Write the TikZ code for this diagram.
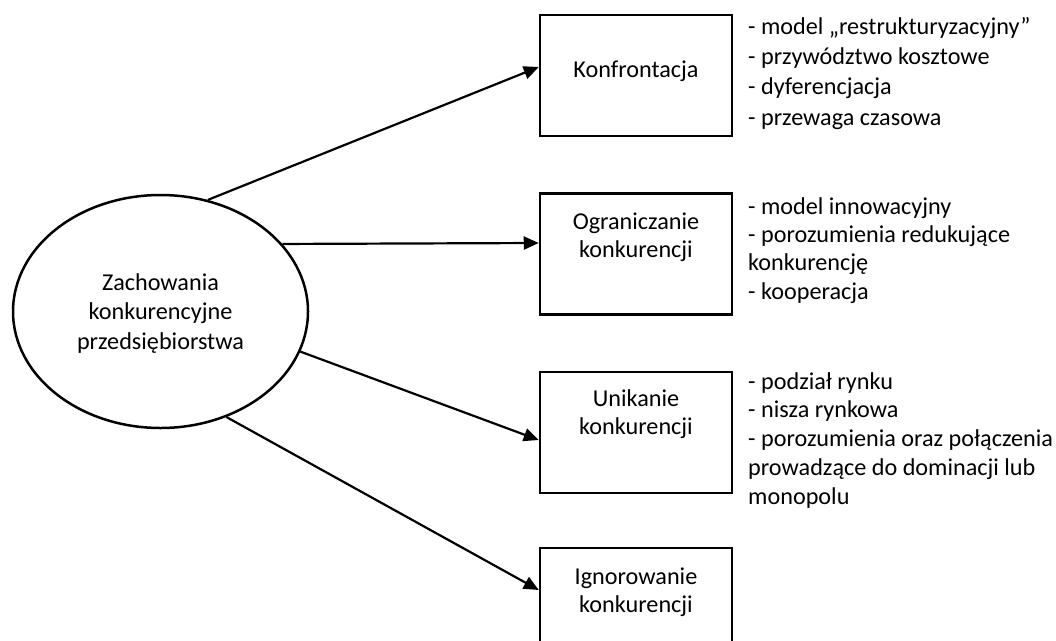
\documentclass[tikz,border=0pt]{standalone}
\usepackage{fontspec}
\setmainfont{Carlito}
\usetikzlibrary{arrows.meta,calc,shapes.geometric}
\begin{document}
\begin{tikzpicture}[x=1pt,y=-1pt,
  every node/.style={font=\fontsize{24.2}{29}\selectfont, inner sep=0pt},
  boxnode/.style={draw, line width=2.5pt, minimum width=192pt, minimum height=121pt},
  listnode/.style={anchor=base west, align=left},
  link/.style={line width=2.2pt, -{Triangle[length=15pt,width=13pt]}}]
\useasboundingbox (0,0) rectangle (1056,640);
\clip (0,0) rectangle (1056,640);
\fill[white] (0,0) rectangle (1056,640);

% central ellipse
\node[draw, line width=2.5pt, ellipse, minimum width=295pt, minimum height=233pt] (ell) at (160.5,311.5) {};
\node[align=center, anchor=base, font=\fontsize{24.2}{29.5}\selectfont] (ellt) at (160.5,349) {Zachowania\\konkurencyjne\\przedsiębiorstwa};

% strategy boxes
\node[boxnode] (k) at (636,75.5) {};
\node[boxnode] (o) at (636,254) {};
\node[boxnode] (u) at (636,432.5) {};
\node[boxnode] (i) at (636,608.5) {};

% box captions (anchored at the baseline of their last line)
\node[anchor=base] (kt) at (636,77) {Konfrontacja};
\node[anchor=base, align=center, font=\fontsize{24.2}{27.5}\selectfont] (ot) at (636,257) {Ograniczanie\\konkurencji};
\node[anchor=base, align=center, font=\fontsize{24.2}{28}\selectfont] (ut) at (636,434) {Unikanie\\konkurencji};
\node[anchor=base, align=center, font=\fontsize{24.2}{28}\selectfont] (it) at (636,612) {Ignorowanie\\konkurencji};

% connectors
\draw[link] (ell.67.7) -- ($(k.west)+(0,-8.5)$);
\draw[link] (ell.29.8) -- ($(o.west)+(0,-11)$);
\draw[link] (ell.-16.8) -- ($(u.west)+(0,7.5)$);
\draw[link] (ell.-58.7) -- ($(i.west)+(0,-18.5)$);

% lists of forms
\node[listnode, font=\fontsize{24.2}{30.3}\selectfont] (kl) at (748,125) {- model „restrukturyzacyjny”\\- przywództwo kosztowe\\- dyferencjacja\\- przewaga czasowa};
\node[listnode, font=\fontsize{24.2}{28.3}\selectfont] (ol) at (748,299) {- model innowacyjny\\- porozumienia redukujące\\konkurencję\\- kooperacja};
\node[listnode, font=\fontsize{24.2}{28.75}\selectfont] (ul) at (748,504) {- podział rynku\\- nisza rynkowa\\- porozumienia oraz połączenia\\prowadzące do dominacji lub\\monopolu};
\end{tikzpicture}
\end{document}
